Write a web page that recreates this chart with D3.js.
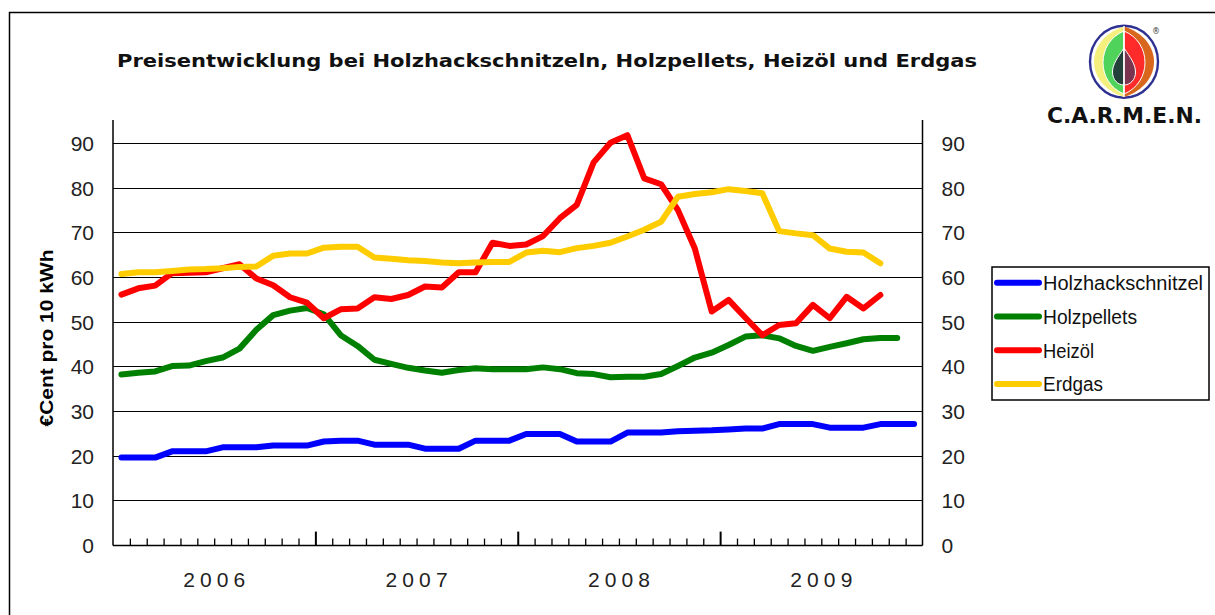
<!DOCTYPE html>
<html><head><meta charset="utf-8">
<script src="https://cdn.jsdelivr.net/npm/d3@7"></script>
<style>body{margin:0;background:#fff}svg{display:block}</style>
</head><body>
<svg id="chart" width="1215" height="615"></svg>
<script>
// ---------------- DATA ----------------
const years = ["2006", "2007", "2008", "2009"];
const monthsOfYear = ["01","02","03","04","05","06","07","08","09","10","11","12"];
const categories = years.flatMap(yr => monthsOfYear.map(m => yr + "-" + m));

const seriesNames = ["Holzhackschnitzel", "Holzpellets", "Heizöl", "Erdgas"];

const holzhackschnitzel = [
  19.7, 19.7, 19.7, 21.1, 21.1, 21.1, 22.0, 22.0, 22.0, 22.4, 22.4, 22.4,
  23.3, 23.5, 23.5, 22.6, 22.6, 22.6, 21.7, 21.7, 21.7, 23.5, 23.5, 23.5,
  25.0, 25.0, 25.0, 23.3, 23.3, 23.3, 25.3, 25.3, 25.3, 25.6, 25.7, 25.8,
  26.0, 26.2, 26.2, 27.2, 27.2, 27.2, 26.4, 26.4, 26.4, 27.2, 27.2, 27.2
];
const holzpellets = [
  38.3, 38.7, 39.0, 40.2, 40.3, 41.3, 42.1, 44.1, 48.3, 51.6, 52.6, 53.2,
  51.8, 47.1, 44.7, 41.6, 40.7, 39.8, 39.2, 38.7, 39.3, 39.7, 39.5, 39.5,
  39.5, 39.9, 39.5, 38.6, 38.4, 37.7, 37.8, 37.8, 38.4, 40.2, 42.1, 43.2,
  44.9, 46.8, 47.1, 46.4, 44.7, 43.6, 44.5, 45.3, 46.2, 46.5, 46.5
];
const heizoel = [
  56.2, 57.6, 58.2, 61.0, 61.1, 61.2, 62.1, 63.0, 59.8, 58.3, 55.6, 54.4,
  50.9, 52.9, 53.1, 55.6, 55.2, 56.1, 58.0, 57.8, 61.2, 61.2, 67.8, 67.1,
  67.4, 69.3, 73.3, 76.3, 85.8, 90.2, 91.9, 82.2, 80.9, 75.1, 66.5, 52.4,
  55.0, 51.0, 47.1, 49.4, 49.8, 53.9, 50.9, 55.7, 53.1, 56.1
];
const erdgas = [
  60.8, 61.2, 61.2, 61.5, 61.8, 61.9, 62.1, 62.4, 62.5, 64.9, 65.4, 65.4,
  66.7, 66.9, 66.9, 64.5, 64.2, 63.9, 63.7, 63.4, 63.2, 63.4, 63.5, 63.5,
  65.6, 66.0, 65.7, 66.6, 67.1, 67.8, 69.2, 70.7, 72.5, 78.1, 78.7, 79.1,
  79.8, 79.4, 78.9, 70.4, 69.9, 69.5, 66.5, 65.8, 65.6, 63.2
];
const yTicks = [0, 10, 20, 30, 40, 50, 60, 70, 80, 90];
const titleText = "Preisentwicklung bei Holzhackschnitzeln, Holzpellets, Heizöl und Erdgas";
const yAxisTitle = "€Cent pro 10 kWh";
const logoText = "C.A.R.M.E.N.";

// ---------------- LAYOUT / STYLE ----------------
const seriesData = [holzhackschnitzel, holzpellets, heizoel, erdgas];
const seriesColors = ["#0000FF", "#008000", "#FF0000", "#FFCC00"];
const legendTextLen = [160, 94, 51, 60];
const plot = { left: 113, right: 922.5, top: 120, bottom: 545.6 };
const tickFont = "'Liberation Sans', Arial, sans-serif";

const svg = d3.select("#chart");
svg.append("rect").attr("width", 1215).attr("height", 615).attr("fill", "#fff");

// outer frame (cut by image edges)
svg.append("path").attr("d", "M9.5,615 V12.5 H1215")
  .attr("fill", "none").attr("stroke", "#000").attr("stroke-width", 1.5);

// scales
const x = d3.scaleBand().domain(categories).range([plot.left, plot.right]).padding(0);
const xIdx = d3.scaleLinear().domain([0, categories.length]).range([plot.left, plot.right]);
const y = d3.scaleLinear().domain([0, 90]).range([plot.bottom, 143.6]);

// gridlines
svg.append("g").selectAll("line").data(yTicks.filter(v => v > 0)).join("line")
  .attr("x1", plot.left).attr("x2", plot.right)
  .attr("y1", d => y(d)).attr("y2", d => y(d))
  .attr("stroke", "#000").attr("stroke-width", 1).attr("shape-rendering", "crispEdges");

// axes lines
const axisG = svg.append("g").attr("stroke", "#000").attr("stroke-width", 1.5);
axisG.append("line").attr("x1", plot.left).attr("x2", plot.left).attr("y1", plot.top).attr("y2", plot.bottom);
axisG.append("line").attr("x1", plot.right).attr("x2", plot.right).attr("y1", plot.top).attr("y2", plot.bottom);
axisG.append("line").attr("x1", plot.left).attr("x2", plot.right).attr("y1", plot.bottom).attr("y2", plot.bottom);

// y tick labels left & right
const yl = svg.append("g").attr("transform", `translate(${plot.left},0)`)
  .call(d3.axisLeft(y).tickValues(yTicks).tickSize(0).tickPadding(19));
const yr = svg.append("g").attr("transform", `translate(${plot.right},0)`)
  .call(d3.axisRight(y).tickValues(yTicks).tickSize(0).tickPadding(19));
[yl, yr].forEach(g => {
  g.select(".domain").remove();
  g.selectAll("text").attr("font-family", tickFont).attr("font-size", 21).attr("fill", "#222");
});

// x ticks (month minor, year major)
const minorIdx = d3.range(1, categories.length).filter(i => i % 12 !== 0);
const majorIdx = d3.range(12, categories.length, 12);
const xm = svg.append("g").attr("transform", `translate(0,${plot.bottom})`)
  .call(d3.axisBottom(xIdx).tickValues(minorIdx).tickSize(-7).tickFormat(""));
const xM = svg.append("g").attr("transform", `translate(0,${plot.bottom})`)
  .call(d3.axisBottom(xIdx).tickValues(majorIdx).tickSize(-14).tickFormat(""));
[xm, xM].forEach(g => { g.select(".domain").remove(); g.selectAll("line").attr("stroke", "#000"); });
xM.selectAll("line").attr("stroke-width", 2);
xm.selectAll("line").attr("stroke-width", 1.3);

// year labels
svg.append("g").selectAll("text").data(years).join("text")
  .attr("x", (d, i) => xIdx(i * 12 + 6)).attr("y", 587)
  .attr("text-anchor", "middle")
  .attr("font-family", tickFont).attr("font-size", 21).attr("fill", "#222")
  .attr("textLength", 62).attr("lengthAdjust", "spacing")
  .text(d => d);

// y axis title
svg.append("text")
  .attr("transform", "translate(53,338) rotate(-90)")
  .attr("text-anchor", "middle")
  .attr("font-family", "'Liberation Sans', Arial, sans-serif").attr("font-weight", "bold")
  .attr("font-size", 19).attr("textLength", 177).attr("lengthAdjust", "spacingAndGlyphs")
  .text(yAxisTitle);

// title
svg.append("text").attr("x", 117).attr("y", 67)
  .attr("font-family", "'DejaVu Sans', sans-serif").attr("font-weight", "bold")
  .attr("font-size", 18).attr("textLength", 860).attr("lengthAdjust", "spacingAndGlyphs")
  .attr("fill", "#111")
  .text(titleText);

// lines
const line = d3.line()
  .x((d, i) => x(categories[i]) + x.bandwidth() / 2)
  .y(d => y(d));
svg.append("g").selectAll("path").data(seriesData).join("path")
  .attr("d", d => line(d))
  .attr("fill", "none")
  .attr("stroke", (d, i) => seriesColors[i])
  .attr("stroke-width", 6)
  .attr("stroke-linejoin", "round")
  .attr("stroke-linecap", "round");

// legend
const lg = svg.append("g");
lg.append("rect").attr("x", 992).attr("y", 267).attr("width", 217).attr("height", 133)
  .attr("fill", "#fff").attr("stroke", "#000").attr("stroke-width", 1.5);
const items = lg.selectAll("g.item").data(seriesNames).join("g").attr("class", "item")
  .attr("transform", (d, i) => `translate(0,${282.7 + i * 33.8})`);
items.append("line").attr("x1", 997).attr("x2", 1039).attr("y1", 0).attr("y2", 0)
  .attr("stroke", (d, i) => seriesColors[i]).attr("stroke-width", 6).attr("stroke-linecap", "round");
items.append("text").attr("x", 1043).attr("y", 0).attr("dy", "0.36em")
  .attr("font-family", tickFont).attr("font-size", 20).attr("fill", "#111")
  .attr("textLength", (d, i) => legendTextLen[i]).attr("lengthAdjust", "spacingAndGlyphs")
  .text(d => d);

// logo
const logo = svg.append("g");
const cx = 1124;
function halfLens(top, bottom, hw, side) {
  const k = hw / 0.75 * side;
  const h = bottom - top;
  return `M${cx},${top} C${cx + k},${top + h * 0.18} ${cx + k},${bottom - h * 0.18} ${cx},${bottom} Z`;
}
function drop(side) {
  const s = side;
  return `M${cx},48 C${cx + 6 * s},57 ${cx + 11.5 * s},64 ${cx + 11.5 * s},72 C${cx + 11.5 * s},80 ${cx + 6 * s},85 ${cx},85 Z`;
}
logo.append("ellipse").attr("cx", cx).attr("cy", 61.7).attr("rx", 34).attr("ry", 36)
  .attr("fill", "#fff").attr("stroke", "#2E3192").attr("stroke-width", 2.4);
logo.append("path").attr("d", halfLens(26.5, 97, 30, -1)).attr("fill", "#F5F07E");
logo.append("path").attr("d", halfLens(26.5, 97, 30, 1)).attr("fill", "#D8661C");
logo.append("path").attr("d", halfLens(31, 94, 21, -1)).attr("fill", "#4FD35B").attr("stroke", "#fff").attr("stroke-width", 1);
logo.append("path").attr("d", halfLens(31, 94, 21, 1)).attr("fill", "#FF2A2A").attr("stroke", "#fff").attr("stroke-width", 1);
logo.append("path").attr("d", drop(-1)).attr("fill", "#23403A").attr("stroke", "#fff").attr("stroke-width", 1);
logo.append("path").attr("d", drop(1)).attr("fill", "#7B3450").attr("stroke", "#fff").attr("stroke-width", 1);
logo.append("line").attr("x1", cx).attr("x2", cx).attr("y1", 26).attr("y2", 97)
  .attr("stroke", "#fff").attr("stroke-width", 1.5);
logo.append("text").attr("x", 1156).attr("y", 34).attr("text-anchor", "middle")
  .attr("font-family", "'DejaVu Sans', sans-serif").attr("font-size", 8).attr("fill", "#333").text("®");
logo.append("text").attr("x", 1047).attr("y", 122.5)
  .attr("font-family", "'DejaVu Sans', sans-serif").attr("font-weight", "bold")
  .attr("font-size", 22).attr("textLength", 155).attr("lengthAdjust", "spacingAndGlyphs")
  .attr("fill", "#111").text(logoText);
</script>
</body></html>
